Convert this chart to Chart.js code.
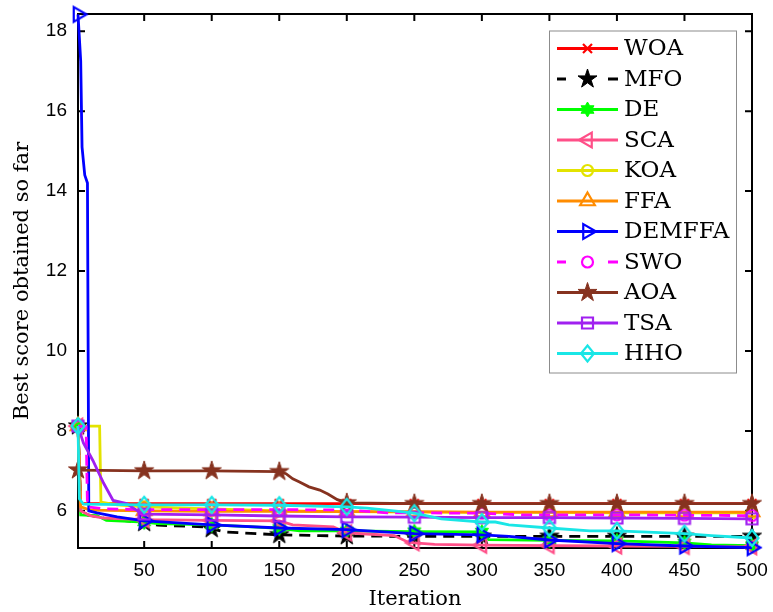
<!DOCTYPE html>
<html>
<head>
<meta charset="utf-8">
<script src="https://cdn.jsdelivr.net/npm/chart.js@4.4.1/dist/chart.umd.min.js"></script>
<style>
  html, body { margin: 0; padding: 0; background: #fff; }
  #wrap { width: 773px; height: 612px; position: relative; }
</style>
</head>
<body>
<div id="wrap"><canvas id="myChart"></canvas></div>
<script>
// convergence curves, [iteration, best score]
const woa = [[1, 8.12], [3, 6.18], [50, 6.18], [100, 6.18], [150, 6.18], [200, 6.18], [250, 6.18], [300, 6.18], [350, 6.18], [400, 6.18], [450, 6.18], [500, 6.18]]
const mfo = [[1, 8.12], [3, 6.0], [8, 5.9], [20, 5.82], [30, 5.78], [50, 5.7], [60, 5.64], [95, 5.6], [100, 5.55], [110, 5.47], [150, 5.4], [180, 5.38], [200, 5.37], [250, 5.36], [300, 5.36], [350, 5.36], [400, 5.36], [450, 5.36], [500, 5.36]]
const de = [[1, 8.12], [3, 5.9], [15, 5.88], [22, 5.76], [50, 5.72], [60, 5.68], [100, 5.65], [130, 5.6], [150, 5.56], [165, 5.5], [200, 5.5], [250, 5.48], [300, 5.47], [305, 5.28], [350, 5.26], [400, 5.25], [450, 5.2], [470, 5.15], [500, 5.13]]
const sca = [[1, 8.12], [3, 6.0], [10, 5.88], [20, 5.82], [50, 5.78], [100, 5.76], [150, 5.75], [160, 5.65], [190, 5.6], [200, 5.45], [215, 5.42], [235, 5.38], [245, 5.22], [250, 5.2], [265, 5.16], [300, 5.14], [350, 5.13], [400, 5.12], [450, 5.11], [500, 5.1]]
const koa = [[1, 8.12], [17, 8.12], [18, 6.22], [30, 6.15], [50, 6.1], [100, 6.05], [150, 6.0], [200, 5.98], [250, 5.97], [300, 5.96], [350, 5.96], [400, 5.95], [450, 5.95], [500, 5.95]]
const ffa = [[1, 8.12], [3, 6.1], [10, 6.02], [50, 6.0], [100, 5.99], [150, 5.99], [200, 5.98], [250, 5.98], [300, 5.97], [350, 5.97], [400, 5.97], [450, 5.97], [500, 5.97]]
const demffa = [[1, 18.42], [3, 17.25], [4, 15.1], [6, 14.4], [8, 14.2], [9, 6.0], [15, 5.95], [30, 5.85], [50, 5.75], [100, 5.65], [150, 5.57], [200, 5.53], [240, 5.45], [250, 5.43], [300, 5.4], [320, 5.36], [350, 5.27], [400, 5.18], [450, 5.12], [500, 5.08]]
const swo = [[1, 8.12], [7, 8.1], [8, 6.1], [20, 6.05], [50, 6.03], [100, 6.03], [150, 6.03], [200, 6.02], [230, 5.95], [250, 5.95], [300, 5.94], [330, 5.9], [350, 5.9], [400, 5.9], [450, 5.89], [500, 5.88]]
const aoa = [[1, 7.02], [50, 7.0], [100, 7.0], [150, 6.98], [155, 6.93], [160, 6.8], [165, 6.72], [172, 6.6], [180, 6.52], [186, 6.42], [193, 6.28], [200, 6.2], [250, 6.18], [300, 6.18], [350, 6.18], [400, 6.18], [450, 6.18], [500, 6.18]]
const tsa = [[1, 8.12], [5, 7.7], [12, 7.26], [20, 6.69], [27, 6.26], [37, 6.18], [45, 6.0], [50, 5.92], [100, 5.9], [150, 5.87], [200, 5.85], [250, 5.84], [300, 5.83], [350, 5.83], [400, 5.82], [450, 5.81], [500, 5.8]]
const hho = [[1, 8.12], [2, 6.3], [5, 6.17], [50, 6.15], [100, 6.15], [150, 6.14], [200, 6.1], [215, 6.07], [240, 5.98], [250, 5.94], [270, 5.8], [300, 5.72], [310, 5.72], [320, 5.65], [350, 5.57], [380, 5.5], [400, 5.5], [450, 5.43], [470, 5.38], [500, 5.32]]

const names = ['WOA', 'MFO', 'DE', 'SCA', 'KOA', 'FFA', 'DEMFFA', 'SWO', 'AOA', 'TSA', 'HHO']
const curves = [woa, mfo, de, sca, koa, ffa, demffa, swo, aoa, tsa, hho]
const xTicks = [50, 100, 150, 200, 250, 300, 350, 400, 450, 500]
const yTicks = [6, 8, 10, 12, 14, 16, 18]

// styles
const colors = ['#ff0000', '#000000', '#00ff00', '#ff4f88', '#e3e300', '#ff8c00', '#0000ff', '#ff00ff', '#86321f', '#a020f0', '#19e6e6']
const markers = ['x', 'star5', 'star6', 'triL', 'circle', 'triU', 'triR', 'circle', 'star5', 'square', 'diamond']
const dashed = [false, true, false, false, false, false, false, true, false, false, false]

function drawMarker(ctx, kind, color, x, y) {
  ctx.save()
  ctx.setLineDash([])
  ctx.strokeStyle = color
  ctx.fillStyle = color
  ctx.lineWidth = 2.2
  ctx.lineJoin = 'miter'
  ctx.beginPath()
  let r
  switch (kind) {
    case 'x':
      r = 4.5
      ctx.moveTo(x - r, y - r); ctx.lineTo(x + r, y + r)
      ctx.moveTo(x + r, y - r); ctx.lineTo(x - r, y + r)
      ctx.stroke()
      break
    case 'star5':
    case 'star6': {
      const n = kind === 'star5' ? 5 : 6
      const R = kind === 'star5' ? 10 : 7.5
      const ri = kind === 'star5' ? R * 0.382 : R * 0.577
      for (let i = 0; i < n * 2; i++) {
        const a = -Math.PI / 2 + i * Math.PI / n
        const rr = i % 2 ? ri : R
        const px = x + Math.cos(a) * rr, py = y + Math.sin(a) * rr
        if (i === 0) ctx.moveTo(px, py); else ctx.lineTo(px, py)
      }
      ctx.closePath()
      ctx.lineWidth = 1
      ctx.fill()
      ctx.stroke()
      break
    }
    case 'triL':
      r = 8.5
      ctx.moveTo(x - r, y); ctx.lineTo(x + r / 2, y - r * 0.866); ctx.lineTo(x + r / 2, y + r * 0.866)
      ctx.closePath(); ctx.stroke()
      break
    case 'triR':
      r = 8.5
      ctx.moveTo(x + r, y); ctx.lineTo(x - r / 2, y - r * 0.866); ctx.lineTo(x - r / 2, y + r * 0.866)
      ctx.closePath(); ctx.stroke()
      break
    case 'triU':
      r = 8.5
      ctx.moveTo(x, y - r); ctx.lineTo(x + r * 0.866, y + r / 2); ctx.lineTo(x - r * 0.866, y + r / 2)
      ctx.closePath(); ctx.stroke()
      break
    case 'circle':
      ctx.arc(x, y, 5.5, 0, Math.PI * 2)
      ctx.stroke()
      break
    case 'square':
      ctx.rect(x - 5.5, y - 5.5, 11, 11)
      ctx.stroke()
      break
    case 'diamond':
      ctx.moveTo(x, y - 8); ctx.lineTo(x + 6.5, y); ctx.lineTo(x, y + 8); ctx.lineTo(x - 6.5, y)
      ctx.closePath(); ctx.stroke()
      break
  }
  ctx.restore()
}

function markerImage(kind, color) {
  const c = document.createElement('canvas')
  c.width = 26
  c.height = 26
  drawMarker(c.getContext('2d'), kind, color, 13, 13)
  return c
}

const frame = {
  id: 'frame',
  beforeDatasetsDraw(chart) {
    const { ctx, chartArea: a, scales: { x, y } } = chart
    ctx.save()
    ctx.strokeStyle = '#000'
    ctx.lineWidth = 2
    ctx.strokeRect(a.left, a.top, a.right - a.left, a.bottom - a.top)
    ctx.beginPath()
    xTicks.forEach(v => {
      const px = x.getPixelForValue(v)
      ctx.moveTo(px, a.bottom); ctx.lineTo(px, a.bottom - 7)
      ctx.moveTo(px, a.top); ctx.lineTo(px, a.top + 7)
    })
    yTicks.forEach(v => {
      const py = y.getPixelForValue(v)
      ctx.moveTo(a.left, py); ctx.lineTo(a.left + 7, py)
      ctx.moveTo(a.right, py); ctx.lineTo(a.right - 7, py)
    })
    ctx.stroke()
    ctx.restore()
  },
  afterDatasetsDraw(chart) {
    const ctx = chart.ctx
    const bx = 549.5, by = 31, bw = 187, bh = 342
    ctx.save()
    ctx.fillStyle = '#fff'
    ctx.fillRect(bx, by, bw, bh)
    ctx.strokeStyle = '#8c8c8c'
    ctx.lineWidth = 1
    ctx.strokeRect(bx, by, bw, bh)
    ctx.font = '23px "DejaVu Serif"'
    ctx.textBaseline = 'middle'
    ctx.textAlign = 'left'
    names.forEach((name, i) => {
      const yy = 48.5 + i * 30.5
      ctx.strokeStyle = colors[i]
      ctx.lineWidth = 2.8
      ctx.beginPath()
      if (dashed[i]) {
        ctx.moveTo(557, yy); ctx.lineTo(566, yy)
        ctx.moveTo(608, yy); ctx.lineTo(618, yy)
      } else {
        ctx.moveTo(557, yy); ctx.lineTo(618, yy)
      }
      ctx.stroke()
      drawMarker(ctx, markers[i], colors[i], 587.5, yy)
      ctx.fillStyle = '#000'
      ctx.fillText(name, 624, yy + 1)
    })
    ctx.restore()
  }
}

const datasets = curves.map((c, i) => ({
  label: names[i],
  data: c.map(p => ({ x: p[0], y: p[1] })),
  borderColor: colors[i],
  borderWidth: 2.8,
  borderDash: dashed[i] ? [11, 7] : [],
  tension: 0,
  fill: false,
  clip: false,
  order: names.length - i,
  pointStyle: markerImage(markers[i], colors[i]),
  pointRadius: ctx => (ctx.raw && (ctx.raw.x === 1 || ctx.raw.x % 50 === 0)) ? 6 : 0
}))

// tick labels sit 11px off the axis through an invisible tick mark, so no label padding is added to the layout
const hiddenGrid = { display: true, drawOnChartArea: false, drawTicks: true, tickLength: 11, color: 'rgba(0,0,0,0)' }

const ctx = document.getElementById('myChart')
// eslint-disable-next-line no-unused-vars
const myChart = new Chart(ctx, {
  type: 'line',
  data: { datasets },
  plugins: [frame],
  options: {
    responsive: true,
    maintainAspectRatio: false,
    animation: false,
    events: [],
    layout: { autoPadding: false, padding: { top: 14, right: 21, left: 0, bottom: 0 } },
    plugins: { legend: { display: false }, tooltip: { enabled: false } },
    scales: {
      x: {
        type: 'linear',
        min: 1,
        max: 500,
        afterBuildTicks: s => { s.ticks = xTicks.map(v => ({ value: v })) },
        afterFit: s => { s.height = 64 },
        grid: hiddenGrid,
        border: { display: false },
        ticks: { autoSkip: false, maxRotation: 0, padding: 0, color: '#000', font: { family: '"Liberation Sans", Arial', size: 19 } },
        title: { display: true, text: 'Iteration', color: '#000', padding: 0, font: { family: '"DejaVu Serif"', size: 21 } }
      },
      y: {
        type: 'linear',
        min: 5.07,
        max: 18.43,
        afterBuildTicks: s => { s.ticks = yTicks.map(v => ({ value: v })) },
        afterFit: s => { s.width = 78 },
        grid: hiddenGrid,
        border: { display: false },
        ticks: { autoSkip: false, padding: 0, color: '#000', font: { family: '"Liberation Sans", Arial', size: 19 } },
        title: { display: true, text: 'Best score obtained so far', color: '#000', padding: { top: 10, bottom: 0 }, font: { family: '"DejaVu Serif"', size: 21 } }
      }
    }
  }
})
</script>
</body>
</html>
